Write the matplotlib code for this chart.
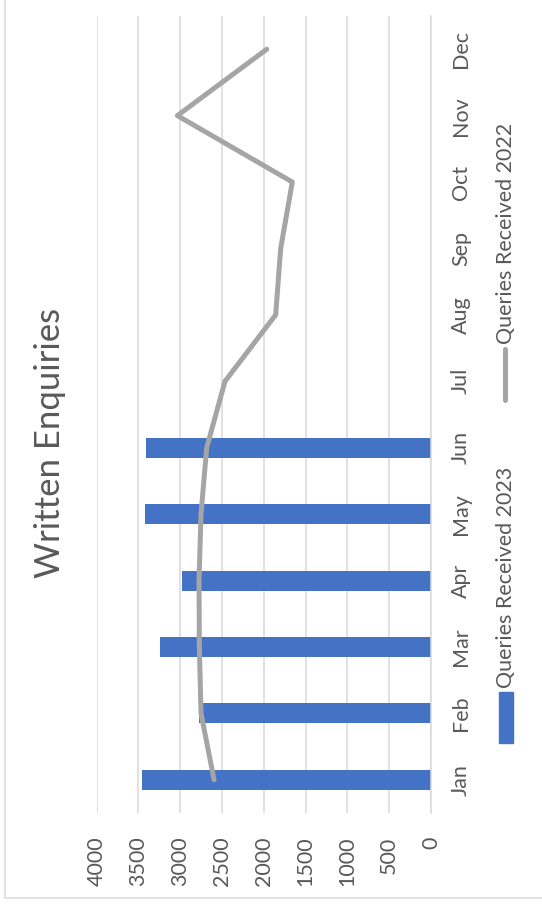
import numpy as np
import matplotlib.pyplot as plt
from matplotlib.lines import Line2D
from matplotlib.patches import Rectangle

# Chart data (the Excel chart is shown rotated 90 degrees)
months = ['Jan', 'Feb', 'Mar', 'Apr', 'May', 'Jun',
          'Jul', 'Aug', 'Sep', 'Oct', 'Nov', 'Dec']
queries_2023 = [3460, 2771, 3237, 2978, 3420, 3412]
queries_2022 = [2595, 2751, 2771, 2775, 2751, 2683,
                2464, 1858, 1798, 1659, 3034, 1965]
value_ticks = [0, 500, 1000, 1500, 2000, 2500, 3000, 3500, 4000]

W, H = 542, 909
text_col = '#595959'
grid_col = '#d9d9d9'
bar_col = '#4472c4'
line_col = '#a5a5a5'
fs = 15.5
plt.rcParams['font.family'] = ['Lato', 'DejaVu Sans']


def fx(px):
    return px / W


def fy(py):
    return 1 - py / H


fig = plt.figure(figsize=(W / 100, H / 100), dpi=100)
ax = fig.add_axes([fx(96.6), fy(813), fx(431) - fx(96.6), fy(16) - fy(813)])

pos = np.arange(len(months))
ax.barh(pos[:len(queries_2023)], queries_2023, height=0.30, color=bar_col, zorder=2)
ax.plot(queries_2022, pos, color=line_col, lw=3.6, solid_capstyle='round',
        solid_joinstyle='round', zorder=3)

ax.set_xlim(4000, 0)
ax.set_ylim(-0.5, len(months) - 0.5)
ax.set_xticks(value_ticks)
ax.set_xticklabels([str(v) for v in value_ticks], rotation=90, color=text_col, fontsize=fs)
ax.set_yticks(pos)
ax.set_yticklabels(months, rotation=90, color=text_col, fontsize=fs, va='center')
ax.yaxis.tick_right()
ax.tick_params(axis='x', length=0, pad=17)
ax.tick_params(axis='y', length=0, pad=14.5)
ax.grid(axis='x', color=grid_col, lw=1.1, zorder=0)
for s in ['top', 'bottom', 'left']:
    ax.spines[s].set_visible(False)
ax.spines['right'].set_color(grid_col)
ax.spines['right'].set_linewidth(1.1)

# title
fig.text(fx(50), fy(443), 'Written Enquiries', rotation=90, ha='center', va='center',
         fontsize=25, color=text_col)

# legend
fig.add_artist(Line2D([fx(505), fx(505)], [fy(400), fy(349)], transform=fig.transFigure,
                      color=line_col, lw=3.6, solid_capstyle='round'))
fig.text(fx(506), fy(344), 'Queries Received 2022', rotation=90, ha='center', va='bottom',
         fontsize=fs, color=text_col)
fig.add_artist(Rectangle((fx(499), fy(743)), fx(14), fy(692) - fy(743),
                         transform=fig.transFigure, color=bar_col))
fig.text(fx(506), fy(688), 'Queries Received 2023', rotation=90, ha='center', va='bottom',
         fontsize=fs, color=text_col)

# chart border
fig.add_artist(Line2D([fx(5), fx(5), fx(560)], [fy(-10), fy(898), fy(898)],
                      transform=fig.transFigure, color=grid_col, lw=1.1))

fig.savefig('out.png', dpi=100)
